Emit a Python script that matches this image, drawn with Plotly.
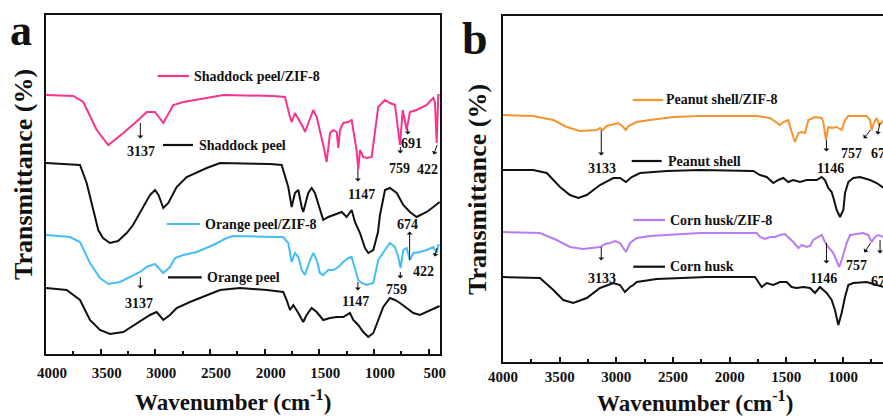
import plotly.graph_objects as go

# ---------------- spectra (wavenumber in cm-1, offset transmittance in a.u.) ----------------
shaddock_zif_wn = [4000, 3750, 3659, 3536, 3430, 3293, 3156, 3079, 3003, 2927, 2836, 2744, 2530, 2378, 1921,
                   1814, 1768, 1753, 1723, 1649, 1631, 1555, 1524, 1494, 1464, 1433, 1402, 1372, 1341, 1326,
                   1311, 1281, 1235, 1204, 1189, 1159, 1144, 1128, 1098, 1067, 1021, 991, 961, 899, 854,
                   808, 778, 762, 737, 716, 701, 671, 610, 518, 457, 442, 426, 412, 400]
shaddock_zif_t = [259, 258, 252, 224, 209, 221, 234, 242, 242, 231, 249, 252, 256, 259, 258,
                  257, 237, 232, 241, 227, 222, 244, 237, 224, 209, 192, 221, 224, 222, 206,
                  224, 231, 232, 234, 224, 204, 184, 204, 197, 196, 197, 224, 247, 254, 251,
                  249, 224, 209, 244, 234, 224, 242, 244, 249, 256, 251, 211, 259, 259]

shaddock_wn = [4000, 3689, 3628, 3567, 3522, 3479, 3415, 3341, 3262, 3204, 3140, 3049, 3003, 2971, 2927,
               2881, 2805, 2713, 2530, 2408, 1951, 1844, 1784, 1753, 1723, 1692, 1661, 1647, 1601, 1570,
               1540, 1494, 1464, 1418, 1372, 1326, 1295, 1250, 1204, 1174, 1128, 1082, 1052, 1006, 963,
               945, 915, 899, 854, 792, 732, 671, 610, 518, 457, 400]
shaddock_t = [191, 189, 171, 144, 124, 116, 111, 113, 121, 129, 142, 159, 164, 159, 146,
              151, 167, 177, 186, 191, 190, 189, 167, 147, 161, 164, 147, 142, 161, 166,
              161, 144, 134, 137, 139, 141, 142, 137, 144, 132, 121, 106, 101, 104, 122,
              139, 154, 164, 166, 161, 149, 142, 137, 142, 147, 152]

orange_zif_wn = [4000, 3780, 3689, 3598, 3506, 3430, 3323, 3201, 3140, 3079, 3003, 2927, 2866, 2820, 2744,
                 2622, 2470, 2347, 2287, 1921, 1830, 1784, 1753, 1723, 1692, 1661, 1631, 1585, 1555, 1524,
                 1494, 1464, 1418, 1372, 1326, 1281, 1235, 1204, 1174, 1144, 1113, 1067, 1006, 961, 899,
                 854, 808, 778, 756, 732, 701, 671, 640, 579, 518, 457, 426, 412, 400]
orange_zif_t = [119, 117, 112, 91, 76, 70, 72, 79, 82, 87, 90, 81, 87, 96, 99,
                102, 109, 116, 118, 117, 117, 111, 92, 101, 97, 84, 79, 94, 101, 94,
                81, 79, 84, 84, 87, 92, 96, 97, 86, 74, 71, 69, 71, 94, 104,
                111, 107, 97, 86, 104, 106, 94, 101, 102, 104, 107, 101, 109, 109]

orange_wn = [4000, 3811, 3689, 3598, 3506, 3415, 3293, 3170, 3049, 2988, 2927, 2866, 2805, 2683, 2530,
             2408, 2226, 1981, 1830, 1799, 1768, 1738, 1692, 1647, 1616, 1570, 1524, 1464, 1402, 1341,
             1281, 1220, 1189, 1144, 1098, 1052, 1006, 961, 915, 854, 808, 762, 701, 640, 579, 488, 400]
orange_t = [66, 64, 54, 34, 24, 20, 22, 31, 39, 42, 34, 39, 46, 52, 59,
            64, 66, 64, 62, 54, 44, 49, 41, 32, 39, 46, 42, 34, 36, 37,
            37, 41, 34, 29, 22, 17, 21, 34, 47, 56, 54, 51, 46, 41, 39, 44, 48]

peanut_zif_wn = [4000, 3733, 3556, 3438, 3321, 3173, 3144, 3118, 3085, 3012, 2983, 2939, 2917, 2894, 2850,
                 2820, 2703, 2497, 2262, 1761, 1644, 1585, 1556, 1527, 1483, 1453, 1424, 1394, 1365, 1335,
                 1320, 1306, 1247, 1188, 1174, 1150, 1130, 1100, 1056, 1012, 982, 953, 791, 762, 747,
                 727, 703, 680, 640]
peanut_zif_t = [247, 246, 242, 235, 231, 232, 234, 232, 236, 238, 239, 235, 232, 236, 238,
                240, 242, 245, 246, 246, 244, 239, 237, 240, 242, 230, 220, 229, 230, 229,
                235, 242, 245, 244, 240, 222, 235, 234, 235, 232, 242, 246, 246, 242, 232,
                239, 244, 237, 242]

peanut_wn = [4000, 3733, 3614, 3497, 3409, 3336, 3261, 3144, 3027, 2968, 2915, 2864, 2791, 2556, 2262,
             1791, 1732, 1673, 1615, 1571, 1527, 1483, 1439, 1379, 1320, 1232, 1188, 1159, 1130, 1100,
             1079, 1056, 1026, 997, 982, 953, 909, 850, 762, 703, 640]
peanut_t = [192, 192, 189, 175, 167, 164, 167, 177, 184, 184, 180, 185, 189, 191, 192,
            191, 187, 185, 179, 182, 184, 180, 182, 180, 182, 182, 185, 182, 174, 170,
            162, 152, 145, 152, 169, 180, 184, 185, 182, 179, 174]

corn_zif_wn = [4000, 3674, 3526, 3409, 3291, 3203, 3144, 3100, 3056, 3012, 2968, 2915, 2879, 2820, 2703,
               2556, 2262, 1761, 1732, 1688, 1644, 1600, 1556, 1512, 1483, 1439, 1394, 1365, 1320, 1291,
               1262, 1218, 1188, 1159, 1130, 1085, 1056, 1033, 1003, 968, 938, 821, 777, 747, 718, 688, 640]
corn_zif_t = [130, 129, 122, 115, 113, 114, 115, 118, 119, 121, 119, 110, 119, 124, 126,
              127, 129, 129, 125, 123, 125, 125, 127, 128, 125, 120, 114, 117, 115, 116,
              122, 125, 127, 120, 115, 109, 102, 95, 105, 119, 127, 129, 127, 120, 125, 127, 125]

corn_wn = [4000, 3674, 3556, 3468, 3380, 3261, 3144, 3027, 2968, 2924, 2879, 2850, 2820, 2644, 2203,
           1776, 1747, 1717, 1673, 1615, 1556, 1497, 1453, 1409, 1350, 1291, 1247, 1203, 1174, 1144,
           1100, 1071, 1041, 1012, 982, 953, 909, 791, 703, 640]
corn_t = [85, 84, 72, 62, 59, 64, 74, 79, 77, 70, 75, 77, 80, 83, 85,
          85, 80, 75, 79, 77, 80, 80, 75, 74, 75, 74, 69, 75, 72, 69,
          62, 52, 37, 49, 65, 77, 79, 80, 77, 75]

# peak markers: (label, wavenumber, transmittance at arrow start, dx, dy in px towards head)
peaks_a = [("3137", 3137, 231, 0, 17), ("1147", 1147, 184, 0, 13), ("759", 759, 207, 0, 8),
           ("691", 691, 225, 0, 7), ("422", 422, 209, -4, 11),
           ("3137", 3137, 77, 0, 13), ("1147", 1147, 72, 0, 10), ("759", 759, 82, 0, 8),
           ("674", 674, 94, 0, -30), ("422", 422, 106, -3, 10)]
peaks_b = [("3133", 3133, 232, 0, 27), ("1146", 1146, 222, 0, 13), ("757", 757, 232, -8, 10),
           ("673", 673, 239, -3, 13),
           ("3133", 3133, 115, 0, 15), ("1146", 1146, 119, 0, 22), ("757", 757, 119, -7, 11),
           ("673", 673, 122, 0, 15)]
# label text centres (px in the 883x419 canvas)
peak_text_pos_a = [(140.7, 151.7), (361.7, 194), (399, 168.5), (411.7, 143.3), (427.5, 169.5),
                   (139, 303.3), (355, 301.7), (396.7, 289), (407.3, 224), (423.3, 271.7)]
peak_text_pos_b = [(601.7, 168.3), (830, 168.3), (851.7, 153.3), (881, 153.3),
                   (601.7, 278.3), (823.3, 278.3), (856.7, 265), (881, 281.7)]

PINK, BLUE, ORANGE, PURPLE, BLACK = "#F7338F", "#45BDF5", "#F7932F", "#B97CF5", "#111111"
FONT = "Liberation Serif"

W, H = 883, 419
def fx(p):
    return p / W
def fy(p):
    return 1 - p / H

fig = go.Figure()

series = [
    (shaddock_zif_wn, shaddock_zif_t, PINK, "x", "y"),
    (shaddock_wn, shaddock_t, BLACK, "x", "y"),
    (orange_zif_wn, orange_zif_t, BLUE, "x", "y"),
    (orange_wn, orange_t, BLACK, "x", "y"),
    (peanut_zif_wn, peanut_zif_t, ORANGE, "x2", "y2"),
    (peanut_wn, peanut_t, BLACK, "x2", "y2"),
    (corn_zif_wn, corn_zif_t, PURPLE, "x2", "y2"),
    (corn_wn, corn_t, BLACK, "x2", "y2"),
]
for wn, t, col, xa, ya in series:
    fig.add_trace(go.Scatter(x=wn, y=t, mode="lines", line=dict(color=col, width=2),
                             xaxis=xa, yaxis=ya, showlegend=False, hoverinfo="skip"))

ann = []
shapes = []

# in-plot legend entries: (line x0, line x1, y, text-left, label, colour)
legend_items = [
    (157.7, 189, 76, 191.5, "Shaddock peel/ZIF-8", PINK),
    (163, 193, 145, 196.5, "Shaddock peel", BLACK),
    (166.7, 200, 224, 202.5, "Orange peel/ZIF-8", BLUE),
    (168, 201.7, 277.3, 204.5, "Orange peel", BLACK),
    (632.7, 663.3, 100, 664, "Peanut shell/ZIF-8", ORANGE),
    (631.7, 661.7, 161, 666, "Peanut shell", BLACK),
    (633.3, 665, 220, 667.5, "Corn husk/ZIF-8", PURPLE),
    (633.3, 665, 266.7, 667.5, "Corn husk", BLACK),
]
for x0, x1, yy, tx, label, col in legend_items:
    shapes.append(dict(type="line", xref="paper", yref="paper", x0=fx(x0), x1=fx(x1),
                       y0=fy(yy), y1=fy(yy), line=dict(color=col, width=2.2)))
    ann.append(dict(xref="paper", yref="paper", x=fx(tx), y=fy(yy), text=label, showarrow=False,
                    xanchor="left", yanchor="middle",
                    font=dict(family=FONT, size=14, color="#111", weight="bold")))

# peak arrows and labels
for peaks, pos, xa, ya in [(peaks_a, peak_text_pos_a, "x", "y"), (peaks_b, peak_text_pos_b, "x2", "y2")]:
    for (label, wn, t, dx, dy), (tx, ty) in zip(peaks, pos):
        ann.append(dict(xref=xa, yref=ya, x=wn, y=t, text="", showarrow=True, ax=dx, ay=dy,
                        arrowside="start", arrowhead=2, arrowsize=0.9, arrowwidth=1,
                        arrowcolor="#111", standoff=0, startstandoff=0))
        ann.append(dict(xref="paper", yref="paper", x=fx(tx), y=fy(ty), text=label, showarrow=False,
                        xanchor="center", yanchor="middle",
                        font=dict(family=FONT, size=14, color="#111", weight="bold")))

# panel letters and axis titles
title_font = dict(family=FONT, size=23, color="#111", weight="bold")
ann += [
    dict(xref="paper", yref="paper", x=fx(21), y=fy(30), text="a", showarrow=False,
         xanchor="center", yanchor="middle", font=dict(family=FONT, size=44, color="#111", weight="bold")),
    dict(xref="paper", yref="paper", x=fx(475), y=fy(38), text="b", showarrow=False,
         xanchor="center", yanchor="middle", font=dict(family=FONT, size=46, color="#111", weight="bold")),
    dict(xref="paper", yref="paper", x=fx(23), y=fy(175), text="Transmittance (%)", textangle=-90,
         showarrow=False, xanchor="center", yanchor="middle",
         font=dict(family=FONT, size=26, color="#111", weight="bold")),
    dict(xref="paper", yref="paper", x=fx(477), y=fy(190), text="Transmittance (%)", textangle=-90,
         showarrow=False, xanchor="center", yanchor="middle",
         font=dict(family=FONT, size=26, color="#111", weight="bold")),
    dict(xref="paper", yref="paper", x=fx(233), y=fy(400), text="Wavenumber (cm<sup>-1</sup>)",
         showarrow=False, xanchor="center", yanchor="middle", font=title_font),
    dict(xref="paper", yref="paper", x=fx(695), y=fy(401), text="Wavenumber (cm<sup>-1</sup>)",
         showarrow=False, xanchor="center", yanchor="middle", font=title_font),
]

tick_font = dict(family=FONT, size=15, color="#111", weight="bold")
xcommon = dict(showgrid=False, zeroline=False, showline=True, linecolor="#111", linewidth=2,
               mirror=True, ticks="inside", ticklen=5, tickwidth=1.5, tickcolor="#111",
               dtick=500, tick0=0, tickfont=tick_font, automargin=False,
               minor=dict(ticks="inside", ticklen=3, tickwidth=1.5, tickcolor="#111", dtick=250, tick0=0))
ycommon = dict(showgrid=False, zeroline=False, showline=True, linecolor="#111", linewidth=2,
               showticklabels=False, ticks="", automargin=False)

fig.update_layout(
    width=W, height=H, margin=dict(l=0, r=0, t=0, b=0),
    paper_bgcolor="white", plot_bgcolor="white",
    xaxis=dict(domain=[fx(46), fx(440)], range=[4000, 396], anchor="y", ticklabelshift=-6,
               ticklabelstandoff=4, **xcommon),
    yaxis=dict(domain=[fy(354), fy(15)], range=[0, 339], anchor="x", mirror=True, **ycommon),
    xaxis2=dict(domain=[fx(503), 1.0], range=[4000, 647], anchor="y2", **xcommon),
    yaxis2=dict(domain=[fy(362), fy(16)], range=[0, 346], anchor="x2", mirror=False, **ycommon),
    annotations=ann, shapes=shapes,
)

fig.write_html("out.html")
